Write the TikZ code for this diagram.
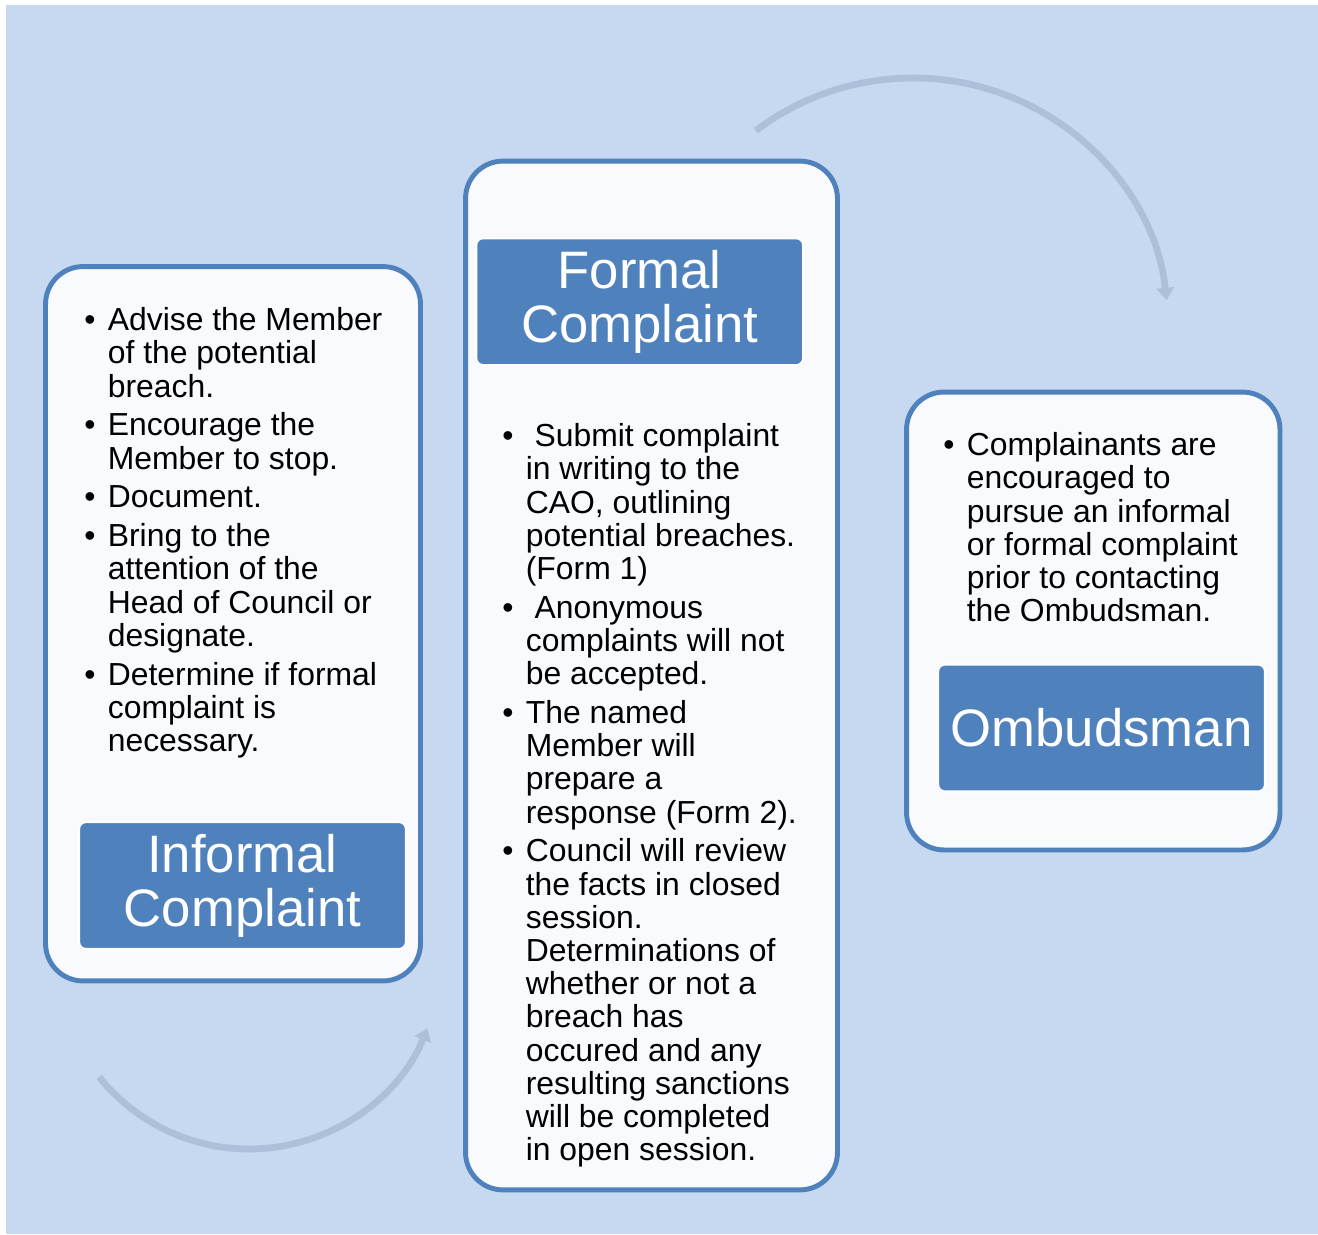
\documentclass[tikz,border=0pt]{standalone}
\usepackage{fontspec}
\setmainfont{Liberation Sans}
\usetikzlibrary{arrows.meta}

\definecolor{bgblue}{HTML}{C6D9F0}
\definecolor{edgeblue}{HTML}{4F81BD}
\definecolor{boxwhite}{HTML}{F8FAFD}
\definecolor{arcgray}{HTML}{AEBFDA}
\newcommand{\bul}{\makebox[0.47cm][l]{\textbullet}}

\begin{document}
\begin{tikzpicture}[x=0.02cm, y=-0.02cm,
    bigbox/.style={draw=edgeblue, line width=2.8pt, fill=boxwhite, rounded corners=0.75cm},
    titlebox/.style={draw=white, line width=1.2pt, fill=edgeblue, rounded corners=0.14cm,
        minimum width=6.54cm, minimum height=2.54cm, text=white, align=center,
        font=\fontsize{30}{30.6}\selectfont},
    bullets/.style={anchor=north west, inner sep=0pt, font=\fontsize{18.14}{18.9}\selectfont},
    cyc/.style={draw=arcgray, line width=3.8pt, -{Triangle[width=10pt,length=7pt]}}]

    \useasboundingbox (0,0) rectangle (1318,1234);
    \fill[bgblue] (6,5) rectangle (1318,1234);

    \node[bigbox, minimum width=7.5cm, minimum height=14.29cm] (Inf) at (233,623.75) {};
    \node[bigbox, minimum width=7.44cm, minimum height=20.58cm] (For) at (651.5,675.5) {};
    \node[bigbox, minimum width=7.47cm, minimum height=9.16cm] (Omb) at (1093.25,621) {};

    \node[titlebox] (InfT) at (242.5,885.5) {Informal\\Complaint};
    \node[titlebox] (ForT) at (639.7,301.7) {Formal\\Complaint};
    \node[titlebox] (OmbT) at (1101.5,728) {Ombudsman};

    \node[bullets] (InfL) at (84,307) {\begin{tabular}{@{}l@{}l@{}}
        \bul & Advise the Member\\
             & of the potential\\
             & breach.\\[3.2pt]
        \bul & Encourage the\\
             & Member to stop.\\[3.2pt]
        \bul & Document.\\[3.2pt]
        \bul & Bring to the\\
             & attention of the\\
             & Head of Council or\\
             & designate.\\[3.2pt]
        \bul & Determine if formal\\
             & complaint is\\
             & necessary.
    \end{tabular}};

    \node[bullets] (ForL) at (502,423) {\begin{tabular}{@{}l@{}l@{}}
        \bul & \ Submit complaint\\
             & in writing to the\\
             & CAO, outlining\\
             & potential breaches.\\
             & (Form 1)\\[3.2pt]
        \bul & \ Anonymous\\
             & complaints will not\\
             & be accepted.\\[3.2pt]
        \bul & The named\\
             & Member will\\
             & prepare a\\
             & response (Form 2).\\[3.2pt]
        \bul & Council will review\\
             & the facts in closed\\
             & session.\\
             & Determinations of\\
             & whether or not a\\
             & breach has\\
             & occured and any\\
             & resulting sanctions\\
             & will be completed\\
             & in open session.
    \end{tabular}};

    \node[bullets] (OmbL) at (943,432) {\begin{tabular}{@{}l@{}l@{}}
        \bul & Complainants are\\
             & encouraged to\\
             & pursue an informal\\
             & or formal complaint\\
             & prior to contacting\\
             & the Ombudsman.
    \end{tabular}};

    \coordinate (A1) at (756,130.6);
    \coordinate (A2) at (1166.6,300.1);
    \coordinate (B1) at (99.2,1077);
    \coordinate (B2) at (427.3,1028.3);

    \draw[cyc] (A1) .. controls (829,75.1) and (927.3,62.5) .. (1012.6,97.7)
                    .. controls (1097.9,132.9) and (1156.9,210.5) .. (A2);
    \draw[cyc] (B1) .. controls (141.9,1130.3) and (209.8,1157) .. (277.4,1146.9)
                    .. controls (345,1136.8) and (401.9,1091.7) .. (B2);
\end{tikzpicture}
\end{document}
